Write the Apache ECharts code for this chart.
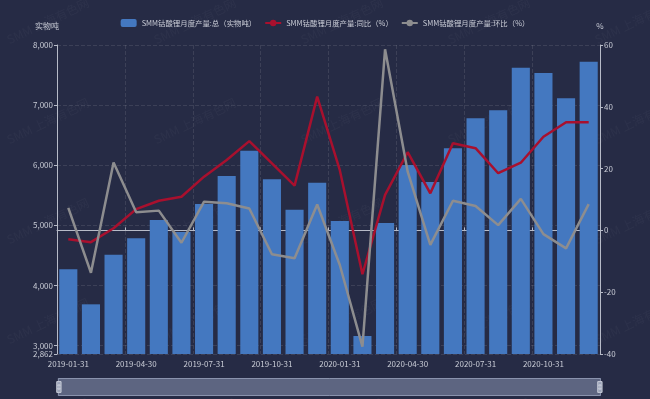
<!DOCTYPE html>
<html>
<head>
<meta charset="utf-8">
<style>
  html, body { margin: 0; padding: 0; background: #262b45; }
  #chart { width: 650px; height: 399px; }
</style>
<script src="https://cdn.jsdelivr.net/npm/echarts@6/dist/echarts.min.js"></script>
</head>
<body>
<div id="chart"></div>
<script>
// 月份
const months = [
  '2019-01-31', '2019-02-28', '2019-03-31', '2019-04-30', '2019-05-31', '2019-06-30',
  '2019-07-31', '2019-08-31', '2019-09-30', '2019-10-31', '2019-11-30', '2019-12-31',
  '2020-01-31', '2020-02-29', '2020-03-31', '2020-04-30', '2020-05-31', '2020-06-30',
  '2020-07-31', '2020-08-31', '2020-09-30', '2020-10-31', '2020-11-30', '2020-12-31'
];
// 月度产量（实物吨）
const output = [
  4270, 3688, 4513, 4786, 5090, 4890, 5356, 5822, 6243, 5767, 5262, 5711,
  5074, 3161, 5040, 6005, 5722, 6282, 6781, 6914, 7623, 7534, 7113, 7723
];
// 同比 %
const yoy = [
  -2.9, -3.8, 0.7, 6.9, 9.6, 10.9, 17.4, 22.8, 28.9, 21.7, 14.5, 43.3,
  19.5, -14.2, 11.5, 25.3, 12.0, 28.2, 26.6, 18.5, 21.9, 30.3, 35.0, 35.0
];
// 环比 %
const mom = [
  7.3, -13.7, 22.0, 5.9, 6.4, -4.0, 9.3, 8.8, 7.1, -7.7, -9.0, 8.4,
  -11.2, -37.6, 58.6, 19.0, -4.7, 9.6, 7.9, 1.7, 10.2, -1.2, -5.8, 8.5
];

const names = ['SMM钴酸锂月度产量:总（实物吨）', 'SMM钴酸锂月度产量:同比（%）', 'SMM钴酸锂月度产量:环比（%）'];
const font = '"Noto Sans CJK SC", "Noto Sans", sans-serif';
const labelColor = '#c9ccd6';

// 水印
const marks = [];
for (let r = 0; r < 5; r++) {
  for (let c = 0; c < 5; c++) {
    marks.push({
      type: 'text',
      x: 5 + c * 147,
      y: 35 + r * 100,
      rotation: Math.PI / 7,
      z: -1,
      style: { text: 'SMM 上海有色网', fill: 'rgba(255,255,255,0.035)', font: '12px ' + font }
    });
  }
}

let chart = echarts.init(document.getElementById('chart'));

let option = {
  backgroundColor: '#262b45',
  textStyle: { fontFamily: font },
  graphic: marks,
  legend: {
    top: 14,
    left: 'center',
    itemWidth: 16,
    itemHeight: 8,
    itemGap: 8,
    textStyle: { color: labelColor, fontSize: 7.4 },
    data: [
      { name: names[0], icon: 'roundRect' },
      names[1],
      names[2]
    ]
  },
  grid: { left: 57, right: 50, top: 45, bottom: 45 },
  xAxis: [
    {
      type: 'category',
      data: months,
      position: 'bottom',
      axisLine: { show: false },
      axisTick: { show: false },
      axisLabel: { color: labelColor, fontSize: 8, interval: 2, margin: 6 },
      splitLine: { show: true, interval: 2, lineStyle: { color: 'rgba(255,255,255,0.1)', type: 'dashed' } }
    },
    {
      type: 'category',
      data: months,
      axisLine: { onZero: true, onZeroAxisIndex: 1, lineStyle: { color: '#b7bbc8' } },
      axisTick: { show: true, interval: 2, length: 3, lineStyle: { color: '#b7bbc8' } },
      axisLabel: { show: false },
      splitLine: { show: false }
    }
  ],
  yAxis: [
    {
      type: 'value',
      name: '实物吨',
      min: 2862,
      max: 8000,
      nameTextStyle: { color: labelColor, fontSize: 8, padding: [0, 20, 0, 0] },
      axisLine: { show: true, lineStyle: { color: '#b7bbc8' } },
      axisTick: { show: true, length: 3 },
      axisLabel: { color: labelColor, fontSize: 8, margin: 4 },
      splitLine: { lineStyle: { color: 'rgba(255,255,255,0.1)', type: 'dashed' } }
    },
    {
      type: 'value',
      name: '%',
      min: -40,
      max: 60,
      interval: 20,
      nameTextStyle: { color: labelColor, fontSize: 8 },
      axisLine: { show: true, lineStyle: { color: '#b7bbc8' } },
      axisTick: { show: true, length: 3 },
      axisLabel: { color: labelColor, fontSize: 8, margin: 4 },
      splitLine: { show: false }
    }
  ],
  dataZoom: [
    {
      type: 'slider',
      xAxisIndex: [0, 1],
      start: 0,
      end: 100,
      left: 57,
      right: 50,
      bottom: 3,
      height: 18,
      showDetail: false,
      showDataShadow: false,
      backgroundColor: 'transparent',
      fillerColor: 'rgba(130,140,170,0.6)',
      borderColor: '#8a93ad',
      handleIcon: 'path://M0,0 h8 v20 h-8 z M2,6 h4 v2 h-4 z M2,12 h4 v2 h-4 z',
      handleSize: '60%',
      handleStyle: { color: '#9aa2b8', borderColor: '#c8ccd8' },
      moveHandleSize: 0,
      brushSelect: false
    }
  ],
  series: [
    {
      name: names[0],
      type: 'bar',
      data: output,
      barWidth: '80%',
      itemStyle: { color: '#4478c0' }
    },
    {
      name: names[1],
      type: 'line',
      yAxisIndex: 1,
      data: yoy,
      symbol: 'none',
      lineStyle: { color: '#a8102e', width: 2.5 },
      itemStyle: { color: '#a8102e' }
    },
    {
      name: names[2],
      type: 'line',
      yAxisIndex: 1,
      data: mom,
      symbol: 'none',
      lineStyle: { color: '#8d8d8f', width: 2.5 },
      itemStyle: { color: '#8d8d8f' }
    }
  ]
};

chart.setOption(option);
</script>
</body>
</html>
